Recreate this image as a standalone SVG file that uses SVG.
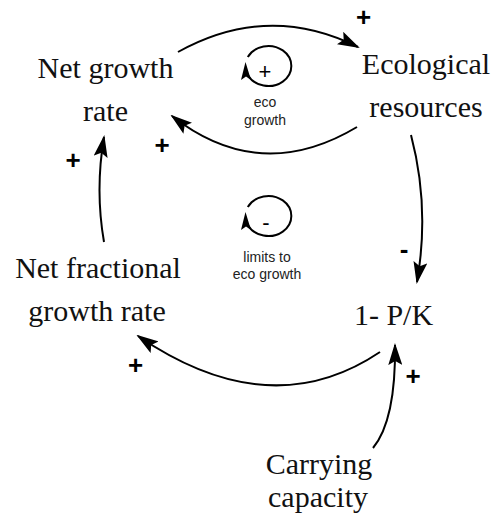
<svg xmlns="http://www.w3.org/2000/svg" width="493" height="525" viewBox="0 0 493 525">
<style>
.node{font-family:"Liberation Serif","DejaVu Serif",serif;font-size:30px;fill:#111;text-anchor:middle}
.pol{font-family:"Liberation Sans",Arial,sans-serif;font-size:26px;font-weight:bold;fill:#000;text-anchor:middle}
.lbl{font-family:"Liberation Sans",Arial,sans-serif;font-size:14px;fill:#222;text-anchor:middle}
.lpol{font-family:"Liberation Sans",Arial,sans-serif;font-size:22px;fill:#000;text-anchor:middle}
.link{fill:none;stroke:#000;stroke-width:2;marker-end:url(#ah)}
.loop{fill:none;stroke:#000;stroke-width:2}
</style>
<defs>
<marker id="ah" viewBox="0 0 22 14" refX="20" refY="7" markerWidth="22" markerHeight="14" markerUnits="userSpaceOnUse" orient="auto">
<path d="M0,0 L22,7 L0,14 L4,7 Z" fill="#000"/>
</marker>
</defs>
<rect width="493" height="525" fill="#fff"/>
<g id="connectors">
<path class="link" d="M178,52 Q268,2 358,47"/>
<path class="link" d="M357,127 Q260,185 172,116"/>
<path class="link" d="M104,242 Q95,190 104,137"/>
<path class="link" d="M411,135 Q430,207 417,282"/>
<path class="link" d="M380,352 Q270,426 138,336"/>
<path class="link" d="M373,448 Q396,420 395,345"/>
<text class="pol" x="363.5" y="26">+</text>
<text class="pol" x="162" y="154">+</text>
<text class="pol" x="73" y="168.5">+</text>
<text class="pol" x="404" y="258">-</text>
<text class="pol" x="135.5" y="373.5">+</text>
<text class="pol" x="413" y="385">+</text>
</g>
<g id="node-net-growth-rate">
<text class="node" x="105.5" y="78">Net growth</text>
<text class="node" x="105.5" y="121">rate</text>
</g>
<g id="node-ecological-resources">
<text class="node" x="426" y="74">Ecological</text>
<text class="node" x="426" y="117">resources</text>
</g>
<g id="node-net-fractional-growth-rate">
<text class="node" x="98" y="278">Net fractional</text>
<text class="node" x="97" y="321">growth rate</text>
</g>
<g id="node-1-pk">
<text class="node" x="393.5" y="325">1- P/K</text>
</g>
<g id="node-carrying-capacity">
<text class="node" x="319" y="474">Carrying</text>
<text class="node" x="318" y="507">capacity</text>
</g>
<g id="loop-eco-growth">
<path class="loop" d="M247.8,57 A23,20 0 1 1 247.8,75"/>
<path d="M245.5,62 L241,80 L246,76.5 L251,80 Z" fill="#000"/>
<text class="lpol" x="265" y="79">+</text>
<text class="lbl" x="265" y="107">eco</text>
<text class="lbl" x="265" y="125">growth</text>
</g>
<g id="loop-limits">
<path class="loop" d="M247.8,207 A23,20 0 1 1 247.8,225"/>
<path d="M245.5,212 L241,230 L246,226.5 L251,230 Z" fill="#000"/>
<text class="lpol" x="266" y="230">-</text>
<text class="lbl" x="267" y="262">limits to</text>
<text class="lbl" x="267" y="279">eco growth</text>
</g>
</svg>
